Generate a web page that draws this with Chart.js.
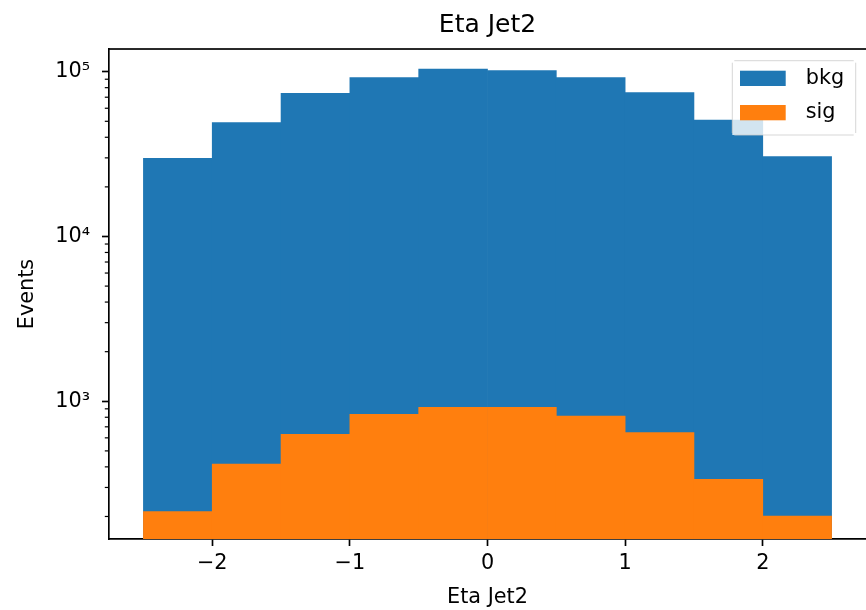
<!DOCTYPE html>
<html>
<head>
<meta charset="utf-8">
<script src="https://cdn.jsdelivr.net/npm/chart.js@4.4.0/dist/chart.umd.min.js"></script>
<style>
    html, body { margin: 0; padding: 0; background: #fff; overflow: hidden; }
    canvas { display: block; }
</style>
</head>
<body>
<canvas id="chart" width="866" height="610"></canvas>
<script>
(function () {
    // histogram bins (eta, width 0.5) and counts
    const binCenters = [-2.25, -1.75, -1.25, -0.75, -0.25, 0.25, 0.75, 1.25, 1.75, 2.25]
    const bkgCounts = [29800, 49100, 73900, 92000, 103800, 101400, 92000, 74600, 50900, 30500]
    const sigCounts = [214, 416, 630, 834, 920, 920, 814, 645, 336, 201]

    const xTicks = [-2, -1, 0, 1, 2]
    const yDecades = [1000, 10000, 100000]
    const yMinorSteps = [2, 3, 4, 5, 6, 7, 8, 9]

    const FONT = "'DejaVu Sans', sans-serif"
    const sup = { '3': '\u00b3', '4': '\u2074', '5': '\u2075' }

    const yMinorTicks = []
    ;[100].concat(yDecades.slice(0, 2)).forEach(function (d) {
        yMinorSteps.forEach(function (m) { yMinorTicks.push(d * m) })
    })
    const yAllTicks = yMinorTicks.concat(yDecades).sort(function (a, b) { return a - b })

    function isDecade(v) { return yDecades.indexOf(v) !== -1 }

    // matplotlib-like minor ticks, top spine and legend box (fills only, no strokes)
    const decorPlugin = {
        id: 'decor',
        afterDraw(chart) {
            const ctx = chart.ctx
            const area = chart.chartArea
            const yScale = chart.scales.y

            ctx.save()
            // right spine sits just outside the picture in the original
            ctx.fillStyle = '#fff'
            ctx.fillRect(area.right - 2, area.top + 1, 4, area.bottom - area.top - 2)

            ctx.fillStyle = '#000'
            yMinorTicks.forEach(function (v) {
                const py = yScale.getPixelForValue(v)
                if (py < area.top || py > area.bottom) return
                ctx.fillRect(area.left - 4.2, py - 0.6, 4.2, 1.2)
            })
            // top spine
            ctx.fillRect(area.left - 0.8, area.top - 0.83, area.right - area.left + 0.8, 1.67)

            // legend
            const w = 123.4, h = 74.3
            const bx = area.right - 10.3 - w
            const by = area.top + 11.7
            ctx.fillStyle = 'rgba(255,255,255,0.8)'
            ctx.fillRect(bx, by, w, h)
            ctx.fillStyle = 'rgba(204,204,204,0.8)'
            ctx.fillRect(bx + 2, by - 0.5, w - 4, 1)
            ctx.fillRect(bx + 2, by + h - 0.5, w - 4, 1)
            ctx.fillRect(bx - 0.5, by + 2, 1, h - 4)
            ctx.fillRect(bx + w - 0.5, by + 2, 1, h - 4)

            ctx.font = '20.8px ' + FONT
            ctx.textBaseline = 'middle'
            ctx.textAlign = 'left'
            chart.data.datasets.forEach(function (ds, i) {
                const py = by + 10 + i * 34.3
                ctx.fillStyle = ds.backgroundColor
                ctx.fillRect(bx + 7.7, py, 45.7, 15.3)
                ctx.fillStyle = '#000'
                ctx.fillText(ds.label, bx + 73.4, py + 7.6)
            })
            ctx.restore()
        }
    }

    const data = {
        datasets: [{
            label: 'bkg',
            data: binCenters.map(function (x, i) { return { x: x, y: bkgCounts[i] } }),
            backgroundColor: '#1f77b4',
            borderWidth: 0,
            order: 2
        }, {
            label: 'sig',
            data: binCenters.map(function (x, i) { return { x: x, y: sigCounts[i] } }),
            backgroundColor: '#ff7f0e',
            borderWidth: 0,
            order: 1
        }]
    }

    const config = {
        type: 'bar',
        data: data,
        options: {
            responsive: false,
            animation: false,
            devicePixelRatio: 1,
            grouped: false,
            barPercentage: 1,
            categoryPercentage: 1,
            layout: { padding: 0 },
            events: [],
            plugins: {
                legend: { display: false },
                tooltip: { enabled: false },
                title: {
                    display: true,
                    text: 'Eta Jet2',
                    fullSize: false,
                    color: '#000',
                    font: { family: FONT, size: 25, weight: 'normal', lineHeight: 1.2 },
                    padding: { top: 10, bottom: 9 }
                }
            },
            scales: {
                x: {
                    type: 'linear',
                    min: -2.75,
                    max: 2.75,
                    offset: false,
                    z: 1,
                    afterBuildTicks: function (scale) {
                        scale.ticks = xTicks.map(function (v) { return { value: v } })
                    },
                    afterFit: function (scale) { scale.height = 71 },
                    ticks: {
                        autoSkip: false,
                        maxRotation: 0,
                        padding: 5.5,
                        color: '#000',
                        font: { family: FONT, size: 20.8 },
                        callback: function (v) { return v < 0 ? '\u2212' + Math.abs(v) : String(v) }
                    },
                    grid: {
                        offset: false,
                        drawOnChartArea: false,
                        drawTicks: true,
                        tickLength: 7,
                        tickWidth: 1.67,
                        tickColor: '#000'
                    },
                    border: { display: true, color: '#000', width: 1.67 },
                    title: {
                        display: true,
                        text: 'Eta Jet2',
                        color: '#000',
                        font: { family: FONT, size: 20.8, lineHeight: 1.2 },
                        padding: { top: 0, bottom: 0 }
                    }
                },
                y: {
                    type: 'logarithmic',
                    min: 146,
                    max: 137300,
                    z: 1,
                    afterBuildTicks: function (scale) {
                        scale.ticks = yAllTicks.map(function (v) { return { value: v } })
                    },
                    afterFit: function (scale) { scale.width = 109 },
                    ticks: {
                        autoSkip: false,
                        padding: 12,
                        color: '#000',
                        font: { family: FONT, size: 20.8 },
                        callback: function (v) {
                            if (!isDecade(v)) return ''
                            const e = String(Math.round(Math.log10(v)))
                            return '10' + sup[e]
                        }
                    },
                    grid: {
                        drawOnChartArea: false,
                        drawTicks: true,
                        tickLength: 7,
                        tickWidth: 1.67,
                        tickColor: function (c) {
                            return c.tick && isDecade(c.tick.value) ? '#000' : 'rgba(0,0,0,0)'
                        }
                    },
                    border: { display: true, color: '#000', width: 1.67 },
                    title: {
                        display: true,
                        text: 'Events',
                        color: '#000',
                        font: { family: FONT, size: 20.8, lineHeight: 1.2 },
                        padding: { top: 15.5, bottom: 0 }
                    }
                }
            }
        },
        plugins: [decorPlugin]
    }

    new Chart(document.getElementById('chart'), config)
})()
</script>
</body>
</html>
